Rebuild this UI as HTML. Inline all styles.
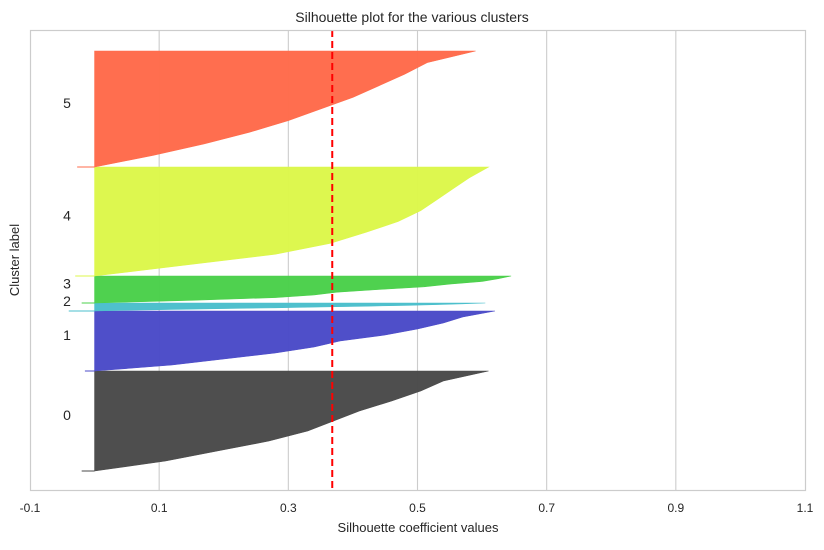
<!DOCTYPE html>
<html><head><meta charset="utf-8"><style>
body{margin:0;background:#fff;font-family:"Liberation Sans",sans-serif}
svg text{font-family:"Liberation Sans",sans-serif;fill:#262626}
</style></head><body>
<svg id="chart" width="824" height="545">
<rect x="0" y="0" width="824" height="545" fill="#fff"/>
<g id="grid"></g>
<g id="marks"></g>
<g id="labels"></g>
<rect x="30.5" y="30.5" width="775" height="460" fill="none" stroke="#cccccc" stroke-width="1.2"/>
<g id="ticks"></g>
<text x="412" y="22" text-anchor="middle" font-size="14">Silhouette plot for the various clusters</text>
<text x="418" y="532" text-anchor="middle" font-size="13">Silhouette coefficient values</text>
<text x="19" y="260" text-anchor="middle" font-size="13" transform="rotate(-90 19 260)">Cluster label</text>
</svg>
<script>
const clusterLabels = ["0","1","2","3","4","5"];
const clusterSizes = [100, 60, 8, 27, 109, 116];
const clusterColors = ["#4a4a4a","#4b4bc8","#4bbfcc","#4bd04b","#dcf74b","#ff6b4b"];
const c0 = [-0.02,0.11,0.19,0.27,0.33,0.37,0.41,0.46,0.505,0.54,0.61];
const c1 = [-0.015,0.12,0.2,0.28,0.34,0.38,0.45,0.5,0.54,0.57,0.62];
const c2 = [-0.04,0.05,0.12,0.2,0.28,0.35,0.42,0.48,0.53,0.57,0.605];
const c3 = [-0.02,0.15,0.28,0.34,0.375,0.44,0.51,0.55,0.6,0.625,0.645];
const c4 = [-0.03,0.14,0.28,0.365,0.42,0.47,0.505,0.53,0.555,0.58,0.61];
const c5 = [-0.027,0.09,0.17,0.24,0.3,0.35,0.4,0.44,0.48,0.515,0.59];
const clusterValues = [c0,c1,c2,c3,c4,c5];
const xTicks = [-0.1,0.1,0.3,0.5,0.7,0.9,1.1];
const xTickLabels = ["-0.1","0.1","0.3","0.5","0.7","0.9","1.1"];
const avgScore = 0.368;
const yStart = 19;
const yMax = 460;

const NS="http://www.w3.org/2000/svg";
const L=30,R=805,T=30,B=490;
const xs=v=>L+(v+0.1)/1.2*(R-L);
const ys=v=>B-v/yMax*(B-T);
function mk(tag,attrs,parent){const e=document.createElementNS(NS,tag);for(const k in attrs)e.setAttribute(k,attrs[k]);parent.appendChild(e);return e;}
const grid=document.getElementById('grid'),marks=document.getElementById('marks'),labels=document.getElementById('labels'),ticks=document.getElementById('ticks');
xTicks.forEach((t,i)=>{
  if(i>0&&i<xTicks.length-1){
    const g=mk('line',{x1:xs(t),x2:xs(t),y1:T,y2:B,stroke:'#cccccc','stroke-width':1.1},grid);
    
    
  }
  const tx=mk('text',{x:xs(t),y:512,'text-anchor':'middle','font-size':12},ticks);
  tx.textContent=xTickLabels[i];
  
  
});
let lower=yStart;
clusterValues.forEach((vals,ci)=>{
  const size=clusterSizes[ci];
  let pts=[[xs(0),ys(lower)]];
  vals.forEach((v,j)=>{pts.push([xs(j===0?Math.max(v,0):v),ys(lower+size*j/(vals.length-1))]);});
  pts.push([xs(0),ys(lower+size)]);
  const p=mk('polygon',{points:pts.map(p=>p.join(',')).join(' '),fill:clusterColors[ci],'fill-opacity':0.98,stroke:clusterColors[ci],'stroke-width':0.6},marks);
  
  
  const tail=mk('line',{x1:xs(vals[0]),x2:xs(0),y1:ys(lower),y2:ys(lower),stroke:clusterColors[ci],'stroke-width':1},marks);
  
  
  const lb=mk('text',{x:67,y:ys(lower+size/2)-1,'text-anchor':'middle','font-size':14},labels);
  lb.textContent=clusterLabels[ci];
  
  
  lower+=size;
});
const av=mk('line',{x1:xs(avgScore),x2:xs(avgScore),y1:T,y2:B,stroke:'#ff0000','stroke-width':2,'stroke-dasharray':'7,4'},marks);


</script>
</body></html>
